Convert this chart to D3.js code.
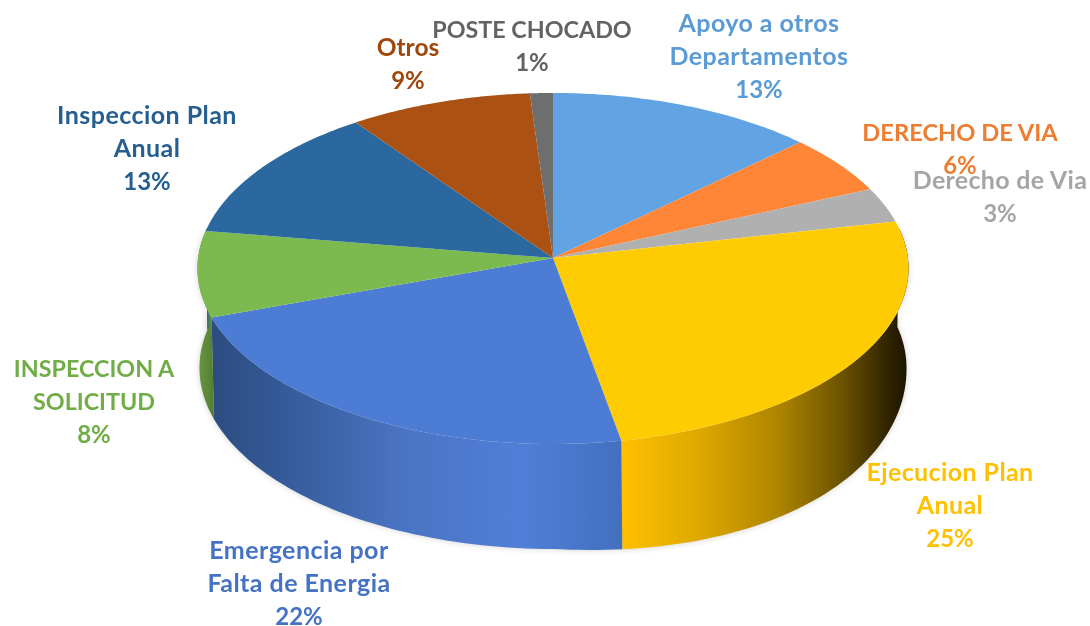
<!DOCTYPE html>
<html><head><meta charset="utf-8">
<style>html,body{margin:0;padding:0;background:#fff}svg{display:block}text{font-family:Lato,"Open Sans",sans-serif;font-weight:700}</style>
<script src="https://cdnjs.cloudflare.com/ajax/libs/d3/7.8.5/d3.min.js"></script>
</head><body><div id="c"></div>
<script>
const categories=["Apoyo a otros Departamentos","DERECHO DE VIA","Derecho de Via","Ejecucion Plan Anual","Emergencia por Falta de Energia","INSPECCION A SOLICITUD","Inspeccion Plan Anual","Otros","POSTE CHOCADO"];
const shares=[12.9,5.5,3.2,25.5,22.5,7.9,12.6,8.8,1.1];
const percentLabels=["13%","6%","3%","25%","22%","8%","13%","9%","1%"];
const labelLines=[["Apoyo a otros","Departamentos"],["DERECHO DE VIA"],["Derecho de Via"],["Ejecucion Plan","Anual"],["Emergencia por","Falta de Energia"],["INSPECCION A","SOLICITUD"],["Inspeccion Plan","Anual"],["Otros"],["POSTE CHOCADO"]];
const labelCentres=[[759,23],[960,132],[1000,180],[950,472],[299,550],[94,368],[147,115],[408,47],[532,29]];
const labelSizes=[25,23.7,25,25,25,23.3,25,24.5,23.3];
const labelSpacing=[0.45,0,0.3,0.4,0.45,0,0.45,0,0];
const topColors=["#62A4E3","#FF8636","#B0B0B0","#FFCC04","#4C7CD4","#7CBA50","#2A689F","#AB5114","#6E6E6E"];
const textColors=["#5B9BD5","#ED7D31","#A5A5A5","#FFC000","#4472C4","#70AD47","#255E91","#9E480E","#636363"];
const wallStops={3:[[622,"#FFC000"],[700,"#DDA800"],[780,"#AD8400"],[845,"#685000"],[880,"#3A2C00"],[906,"#1C1500"]],
 4:[[205,"#2C4A7E"],[300,"#375E9F"],[400,"#4A74C2"],[520,"#507FD8"],[622,"#4270BE"]],
 5:[[197,"#6A9A42"],[213,"#557F33"]]};

const W=1090,H=626,lh=33;
const svg=d3.select("#c").append("svg").attr("width",W).attr("height",H);
const defs=svg.append("defs");
const blur=defs.append("filter").attr("id","soft").attr("x","-5%").attr("y","-5%").attr("width","110%").attr("height","115%");
blur.append("feGaussianBlur").attr("stdDeviation",3);
Object.entries(wallStops).forEach(([i,st])=>{
  const g=defs.append("linearGradient").attr("id","wall"+i).attr("gradientUnits","userSpaceOnUse")
    .attr("x1",st[0][0]).attr("x2",st[st.length-1][0]).attr("y1",0).attr("y2",0);
  const sx=d3.scaleLinear().domain([st[0][0],st[st.length-1][0]]).range([0,1]);
  st.forEach(s=>g.append("stop").attr("offset",sx(s[0])).attr("stop-color",s[1]));
});
const pieLayout=d3.pie().sort(null).startAngle(0).endAngle(2*Math.PI).value(d=>d);
const arcs=pieLayout(shares);
// perspective projection of the disc: t = angle clockwise from the top
const project=(p)=>t=>{
  const u=Math.sin(t),v=-Math.cos(t),w=1-p.k*v;
  const bulge=(u>0&&v>0)?p.skew*u*v:0;
  return [p.cx+(u<0?p.aL:p.aR)*u/w,p.cy+p.b*v/w+bulge];
};
const topFace=project({cx:553,cy:258,aL:354.9,aR:354.9,b:174.9,k:0.0598,skew:0});
const botFace=project({cx:555,cy:358,aL:355,aR:351,b:180.5,k:0.055,skew:20});
const line=d3.line();
const steps=(a,b)=>d3.range(0,61).map(i=>a+(b-a)*i/60);
const front=[80*Math.PI/180,280*Math.PI/180];
const walls=arcs.map((d,i)=>({i,a:Math.max(d.startAngle,front[0]),b:Math.min(d.endAngle,front[1])})).filter(d=>d.b>d.a);
const wallPath=d=>{const s=steps(d.a,d.b);return line(s.map(topFace).concat(s.slice().reverse().map(botFace)))+"Z";};
// soft ground shadow
svg.append("g").attr("filter","url(#soft)").selectAll("path").data(walls).join("path")
  .attr("d",wallPath).attr("fill","#000").attr("opacity",0.18);
svg.append("g").selectAll("path").data(walls).join("path")
  .attr("d",wallPath).attr("fill",d=>wallStops[d.i]?`url(#wall${d.i})`:topColors[d.i]);
svg.append("g").selectAll("path").data(arcs).join("path")
  .attr("d",d=>line([[553,258]].concat(steps(d.startAngle,d.endAngle).map(topFace)))+"Z")
  .attr("fill",(d,i)=>topColors[i]);
const lab=svg.append("g").selectAll("text").data(categories).join("text")
  .attr("text-anchor","middle").attr("fill",(d,i)=>textColors[i]);
lab.each(function(d,i){
  const t=d3.select(this),[x,y]=labelCentres[i];
  labelLines[i].forEach((s,j)=>{
    t.append("tspan").attr("x",x).attr("y",y+j*lh+9).attr("font-size",labelSizes[i]).attr("letter-spacing",labelSpacing[i]).text(s);
  });
  t.append("tspan").attr("x",x).attr("y",y+labelLines[i].length*lh+9).attr("font-size",24).text(percentLabels[i]);
});
</script></body></html>
